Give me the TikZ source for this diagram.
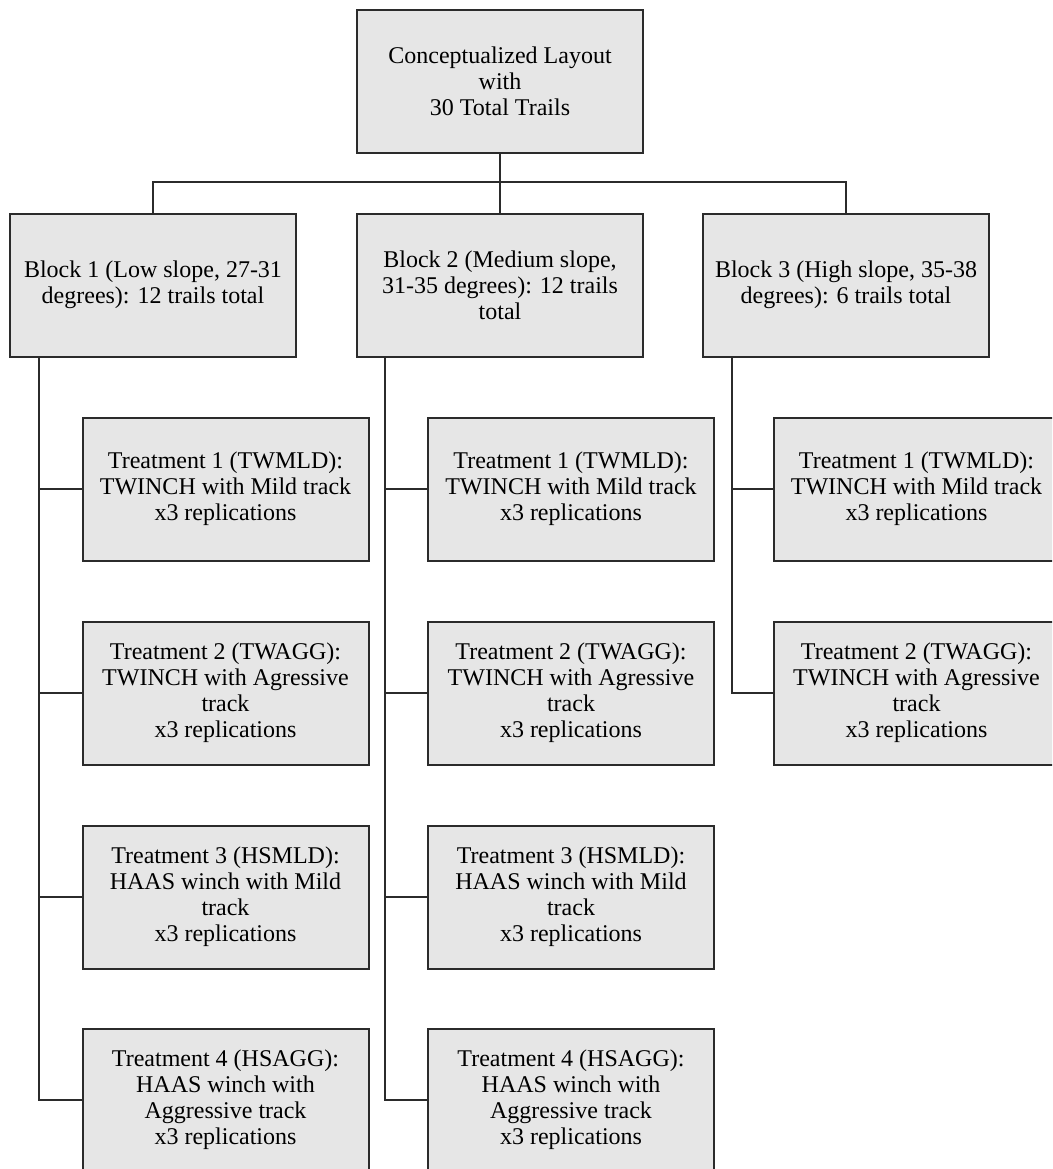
\documentclass[tikz,border=0pt]{standalone}
\usepackage{fontspec}
\setmainfont{Liberation Serif}
\definecolor{boxfill}{HTML}{E6E6E6}
\definecolor{edge}{HTML}{2B2B2B}
\begin{document}
\begin{tikzpicture}[x=1pt,y=-1pt,
  box/.style={draw=edge,fill=boxfill,line width=2pt,minimum width=286pt,minimum height=143pt,
    inner sep=0pt,align=center,font=\fontsize{24}{26}\selectfont},
  conn/.style={draw=edge,line width=2pt}]
\useasboundingbox (0,0) rectangle (1052,1169);
\clip (0,0) rectangle (1052,1169);
\fill[white] (0,0) rectangle (1052,1169);
% top
\node[box] (top) at (500,81.5) {Conceptualized Layout\\with\\30 Total Trails};
% blocks
\node[box] (b1) at (153,285) {Block 1 (Low slope, 27-31\\degrees): 12 trails total};
\node[box] (b2) at (500,285) {Block 2 (Medium slope,\\31-35 degrees): 12 trails\\total};
\node[box] (b3) at (846,285) {Block 3 (High slope, 35-38\\degrees): 6 trails total};
% column 1
\node[box] (c1r1) at (225.5,489) {Treatment 1 (TWMLD):\\TWINCH with Mild track\\x3 replications};
\node[box] (c1r2) at (225.5,693) {Treatment 2 (TWAGG):\\TWINCH with Agressive\\track\\x3 replications};
\node[box] (c1r3) at (225.5,897) {Treatment 3 (HSMLD):\\HAAS winch with Mild\\track\\x3 replications};
\node[box] (c1r4) at (225.5,1100) {Treatment 4 (HSAGG):\\HAAS winch with\\Aggressive track\\x3 replications};
% column 2
\node[box] (c2r1) at (571,489) {Treatment 1 (TWMLD):\\TWINCH with Mild track\\x3 replications};
\node[box] (c2r2) at (571,693) {Treatment 2 (TWAGG):\\TWINCH with Agressive\\track\\x3 replications};
\node[box] (c2r3) at (571,897) {Treatment 3 (HSMLD):\\HAAS winch with Mild\\track\\x3 replications};
\node[box] (c2r4) at (571,1100) {Treatment 4 (HSAGG):\\HAAS winch with\\Aggressive track\\x3 replications};
% column 3
\node[box] (c3r1) at (916.5,489) {Treatment 1 (TWMLD):\\TWINCH with Mild track\\x3 replications};
\node[box] (c3r2) at (916.5,693) {Treatment 2 (TWAGG):\\TWINCH with Agressive\\track\\x3 replications};
% trunk coordinates
\coordinate (t1) at (39,357);
\coordinate (t2) at (385,357);
\coordinate (t3) at (732,357);
% top connectors
\draw[conn] (top.south) -- (b2.north);
\draw[conn] (b1.north) -- ++(0,-30) -| (b3.north);
% trunks
\draw[conn] (t1) |- (c1r4.west);
\draw[conn] (c1r1.west) -- (c1r1.west -| t1);
\draw[conn] (c1r2.west) -- (c1r2.west -| t1);
\draw[conn] (c1r3.west) -- (c1r3.west -| t1);
\draw[conn] (t2) |- (c2r4.west);
\draw[conn] (c2r1.west) -- (c2r1.west -| t2);
\draw[conn] (c2r2.west) -- (c2r2.west -| t2);
\draw[conn] (c2r3.west) -- (c2r3.west -| t2);
\draw[conn] (t3) |- (c3r2.west);
\draw[conn] (c3r1.west) -- (c3r1.west -| t3);
\end{tikzpicture}
\end{document}
